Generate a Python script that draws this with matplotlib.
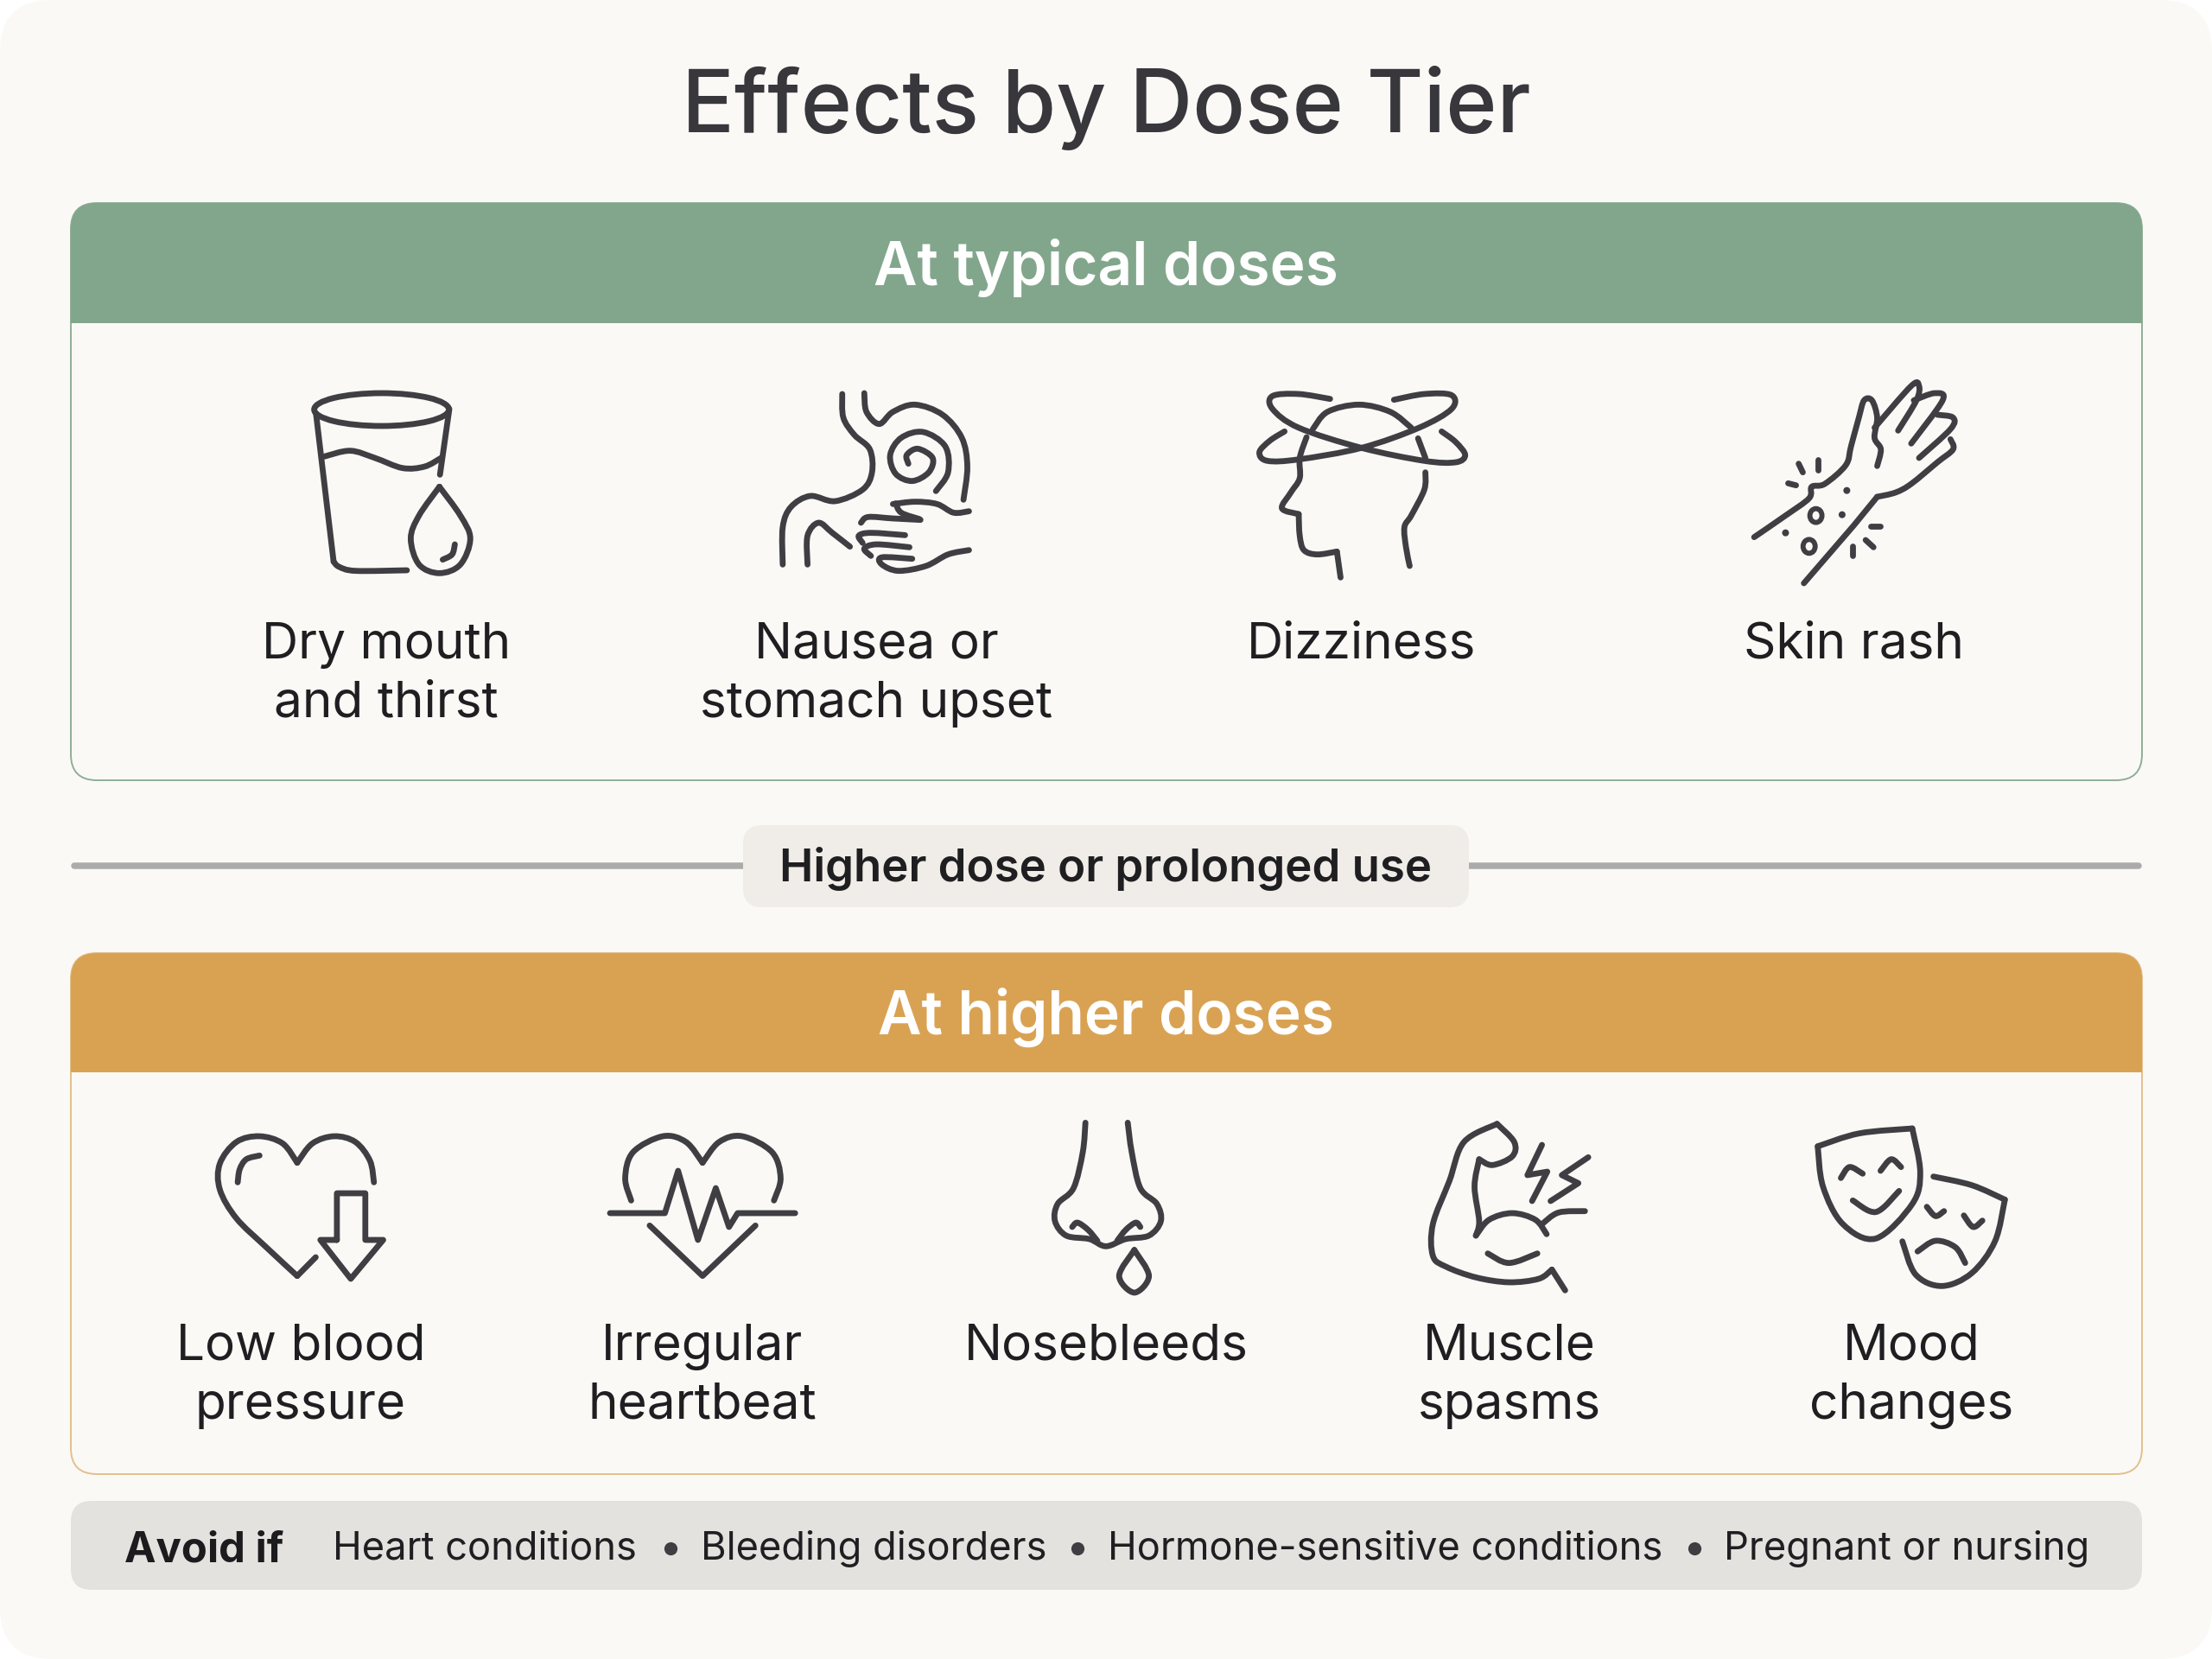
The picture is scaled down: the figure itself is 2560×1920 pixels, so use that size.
import matplotlib
matplotlib.use('Agg')
import matplotlib.pyplot as plt
from matplotlib.patches import FancyBboxPatch, PathPatch, Ellipse, Rectangle
from matplotlib.path import Path

plt.rcParams['font.family'] = ['Inter', 'DejaVu Sans']

# The text of the chart
title = 'Effects by Dose Tier'
tier_names = ['At typical doses', 'At higher doses']
typical_effects = ['Dry mouth\nand thirst', 'Nausea or\nstomach upset', 'Dizziness', 'Skin rash']
higher_effects = ['Low blood\npressure', 'Irregular\nheartbeat', 'Nosebleeds', 'Muscle\nspasms', 'Mood\nchanges']
divider_label = 'Higher dose or prolonged use'
avoid_label = 'Avoid if'
avoid_items = ['Heart conditions', 'Bleeding disorders', 'Hormone-sensitive conditions', 'Pregnant or nursing']

# Where the labels sit, in pixels
typical_x = [447, 1014, 1576, 2145]
higher_x = [348, 813, 1280, 1747, 2212]
avoid_x = [385, 811, 1282, 1995]
bullet_x = [776, 1247, 1961]

glass_curves = [
    [(135, 690), (145, 708), (175, 722), (268, 720)],
    [(118, 325), (165, 305), (210, 330), (260, 365), (300, 360), (330, 330)],
    [(327, 430), (290, 530), (275, 610), (290, 700), (327, 730), (365, 700), (383, 610), (365, 530), (327, 430)],
    [(355, 630), (350, 665), (333, 683)],
]
glass_lines = [[(103, 175), (135, 690)], [(345, 160), (328, 388)]]

stomach_curves = [
    [(1058, 108), (1060, 190), (1080, 250), (1108, 300), (1112, 380), (1095, 440), (1045, 480), (1000, 462), (965, 500), (950, 570), (950, 700)],
    [(1098, 105), (1102, 170), (1125, 212), (1150, 170), (1190, 145), (1240, 180), (1275, 260), (1285, 360), (1278, 475)],
    [(1228, 445), (1250, 380), (1245, 290), (1205, 240), (1165, 260), (1145, 320), (1155, 385), (1185, 410), (1215, 380), (1222, 330), (1195, 298), (1175, 320), (1178, 350)],
    [(995, 700), (995, 600), (1015, 555), (1040, 590), (1072, 638)],
    [(1150, 490), (1190, 482), (1230, 490), (1260, 520), (1288, 515)],
    [(1155, 488), (1165, 520), (1198, 542)],
    [(1200, 545), (1150, 540), (1105, 535), (1092, 555)],
    [(1172, 598), (1110, 590), (1088, 600), (1095, 625)],
    [(1180, 640), (1120, 630), (1098, 645), (1110, 670)],
    [(1185, 680), (1130, 675), (1130, 700), (1160, 722), (1210, 705), (1250, 665), (1288, 650)],
]

dizzy_curves = [
    [(230, 125), (170, 108), (120, 115), (120, 160), (170, 225), (290, 295), (410, 340), (470, 345), (488, 320), (470, 275), (443, 238)],
    [(352, 128), (410, 108), (462, 112), (462, 160), (400, 225), (290, 295), (170, 335), (110, 340), (95, 310), (115, 270), (143, 238)],
    [(197, 230), (225, 170), (285, 145), (345, 170), (385, 225)],
    [(185, 258), (172, 330), (172, 400), (155, 450), (138, 505), (170, 525)],
    [(170, 525), (172, 600), (180, 650), (205, 665), (243, 655)],
    [(412, 380), (410, 440), (385, 530), (372, 570), (375, 640), (382, 705)],
    [(398, 262), (412, 330)],
]
dizzy_lines = [[(243, 655), (250, 745)]]

rash_curves = [
    [(1040, 605), (1100, 530), (1145, 470), (1150, 430), (1175, 420), (1215, 355), (1225, 290), (1240, 190), (1250, 130), (1265, 130), (1275, 190), (1270, 260), (1282, 300), (1275, 358)],
    [(1270, 225), (1340, 80), (1355, 80), (1350, 130), (1315, 235)],
    [(1345, 130), (1385, 105), (1400, 130), (1340, 280)],
    [(1390, 180), (1420, 190), (1415, 230), (1355, 330)],
    [(1415, 265), (1420, 300), (1390, 345), (1340, 420), (1310, 450), (1275, 465)],
]
rash_lines = [
    [(1275, 465), (1230, 565), (1135, 765)],
    [(1133, 380), (1125, 350)], [(1162, 372), (1162, 335)], [(1120, 425), (1105, 418)],
    [(1280, 568), (1262, 568)], [(1268, 640), (1253, 615)], [(1228, 670), (1228, 635)],
]
rash_rings = [(1158, 530), (1145, 637)]
rash_dots = [(1217, 443), (1208, 527), (1100, 590)]

pressure_curves = [
    [(162, 197), (140, 130), (105, 105), (70, 125), (45, 200), (45, 290), (70, 390), (115, 490), (162, 590)],
    [(162, 197), (185, 130), (218, 105), (250, 125), (272, 190), (278, 265)],
    [(105, 172), (85, 185), (75, 220), (72, 265)],
]
pressure_lines = [
    [(162, 590), (190, 525)],
    [(222, 465), (222, 303), (265, 303), (265, 465), (292, 465), (243, 600), (197, 465), (222, 465)],
]

beat_curves = [
    [(667, 328), (658, 250), (670, 160), (715, 105), (750, 125), (775, 197)],
    [(775, 197), (800, 125), (835, 105), (880, 160), (893, 250), (883, 328)],
]
beat_lines = [
    [(635, 372), (718, 372), (738, 225), (768, 465), (795, 285), (815, 420), (828, 372), (915, 372)],
    [(695, 415), (775, 590), (855, 415)],
]

nose_curves = [
    [(1354, 58), (1350, 160), (1336, 285), (1312, 340), (1308, 400), (1325, 450), (1360, 462), (1385, 487), (1415, 462), (1450, 450), (1468, 400), (1462, 340), (1437, 285), (1424, 160), (1418, 58)],
    [(1334, 420), (1342, 405), (1358, 430), (1372, 468)],
    [(1437, 420), (1430, 405), (1415, 430), (1402, 468)],
    [(1428, 500), (1405, 590), (1428, 648), (1450, 590), (1428, 500)],
]

muscle_curves = [
    [(722, 62), (672, 125), (650, 260), (625, 410), (625, 520), (645, 558), (690, 595), (740, 612), (785, 600), (805, 568)],
    [(722, 62), (748, 125), (745, 175), (715, 205), (695, 185)],
    [(695, 185), (688, 280), (695, 400), (690, 450)],
    [(690, 450), (710, 395), (745, 372), (780, 395), (797, 445)],
    [(790, 410), (815, 370), (855, 365)],
    [(708, 512), (740, 545), (783, 512)],
]
muscle_lines = [
    [(805, 568), (825, 640)],
    [(790, 135), (768, 240), (798, 228), (775, 330)],
    [(860, 178), (820, 240), (845, 268), (803, 330)],
]

mask_curves = [
    [(1207, 140), (1270, 95), (1350, 78)],
    [(1350, 78), (1362, 230), (1350, 340), (1295, 460), (1245, 410), (1215, 280), (1207, 140)],
    [(1242, 250), (1255, 212), (1275, 235)],
    [(1302, 225), (1318, 185), (1333, 212)],
    [(1260, 328), (1295, 368), (1330, 295)],
    [(1382, 245), (1440, 275), (1490, 325)],
    [(1490, 325), (1475, 470), (1440, 580), (1395, 625), (1355, 585), (1335, 470)],
    [(1372, 350), (1385, 382), (1398, 365)],
    [(1428, 380), (1442, 420), (1456, 398)],
    [(1358, 505), (1385, 468), (1415, 490), (1430, 545)],
]

INK = '#3f3f43'
TEXT = '#1f1f22'
PAGE = '#fbf9f6'
ICON_LW = 2.45
LABEL_PX = 58.5


def px(size):
    # font size in points for a size in pixels
    return size * 72 / 200


def smooth_path(points):
    # Catmull-Rom stroke written as bezier segments
    verts = [points[0]]
    codes = [Path.MOVETO]
    for i in range(len(points) - 1):
        p0 = points[max(i - 1, 0)]
        p1 = points[i]
        p2 = points[i + 1]
        p3 = points[min(i + 2, len(points) - 1)]
        verts.append((p1[0] + (p2[0] - p0[0]) / 6, p1[1] + (p2[1] - p0[1]) / 6))
        verts.append((p2[0] - (p3[0] - p1[0]) / 6, p2[1] - (p3[1] - p1[1]) / 6))
        verts.append(p2)
        codes += [Path.CURVE4] * 3
    return Path(verts, codes)


def draw_icon(ax, origin, scale, curves=(), lines=()):
    place = lambda s: [(origin[0] + x / scale[0], origin[1] + y / scale[1]) for x, y in s]
    for stroke in curves:
        ax.add_patch(PathPatch(smooth_path(place(stroke)), fill=False, ec=INK, lw=ICON_LW,
                               capstyle='round', joinstyle='round'))
    for stroke in lines:
        ax.add_patch(PathPatch(Path(place(stroke)), fill=False, ec=INK, lw=ICON_LW,
                               capstyle='round', joinstyle='round'))


def panel(ax, top, bottom, head_bottom, color, edge, name):
    box = FancyBboxPatch((82, top), 2397, bottom - top, boxstyle='round,pad=0,rounding_size=30',
                         fc=PAGE, ec=edge, lw=0.7, zorder=1)
    ax.add_patch(box)
    head = Rectangle((82, top), 2397, head_bottom - top, fc=color, ec='none', zorder=2)
    ax.add_patch(head)
    head.set_clip_path(box)
    ax.text(1280, (top + head_bottom) / 2 - 2, name, ha='center', va='center_baseline', color='white',
            fontsize=px(69.5), fontweight='semibold', zorder=3)


fig = plt.figure(figsize=(12.8, 9.6), dpi=200, facecolor='white')
ax = fig.add_axes([0, 0, 1, 1])
ax.set_xlim(0, 2560)
ax.set_ylim(1920, 0)
ax.axis('off')

# Page
ax.add_patch(FancyBboxPatch((0, 0), 2560, 1920, boxstyle='round,pad=0,rounding_size=60',
                            fc=PAGE, ec='none', zorder=0))
ax.text(1280, 115, title, ha='center', va='center_baseline', color='#37373c',
        fontsize=px(101), fontweight='medium')

# Tier panels
panel(ax, 235, 903, 374, '#82a68c', '#8fae98', tier_names[0])
panel(ax, 1103, 1706, 1241, '#d9a253', '#e2c08c', tier_names[1])

for x, label in zip(typical_x, typical_effects):
    ax.text(x, 741, label.split('\n')[0], ha='center', va='center_baseline', color=TEXT, fontsize=px(LABEL_PX), zorder=4)
    if '\n' in label:
        ax.text(x, 809, label.split('\n')[1], ha='center', va='center_baseline', color=TEXT, fontsize=px(LABEL_PX), zorder=4)
for x, label in zip(higher_x, higher_effects):
    ax.text(x, 1553, label.split('\n')[0], ha='center', va='center_baseline', color=TEXT, fontsize=px(LABEL_PX), zorder=4)
    if '\n' in label:
        ax.text(x, 1621, label.split('\n')[1], ha='center', va='center_baseline', color=TEXT, fontsize=px(LABEL_PX), zorder=4)

# Divider
ax.plot([86, 2475], [1002, 1002], color='#ababab', lw=2.7, solid_capstyle='round', zorder=1)
ax.add_patch(FancyBboxPatch((860, 955), 840, 95, boxstyle='round,pad=0,rounding_size=22',
                            fc='#f0ece7', ec='none', zorder=2))
ax.text(1280, 1000, divider_label, ha='center', va='center_baseline', color=TEXT,
        fontsize=px(52.8), fontweight='semibold', zorder=3)

# Avoid bar
ax.add_patch(FancyBboxPatch((82, 1737), 2397, 103, boxstyle='round,pad=0,rounding_size=24',
                            fc='#e3e2df', ec='none', zorder=1))
ax.text(144, 1789, avoid_label, ha='left', va='center_baseline', color='#1c1c1e',
        fontsize=px(49), fontweight='bold', zorder=3)
for x, item in zip(avoid_x, avoid_items):
    ax.text(x, 1788, item, ha='left', va='center_baseline', color=TEXT, fontsize=px(45.3), zorder=3)
ax.scatter(bullet_x, [1792] * len(bullet_x), s=30, color=INK, linewidths=0, zorder=3)

# Icons, row one
crop_a = ((300, 420), (1.568, 3))
crop_b = ((1400, 420), (1.6505, 3))
crop_c = ((220, 1280), (1.3067, 3))
crop_d = ((1180, 1280), (1.3067, 3))

draw_icon(ax, *crop_a, curves=glass_curves, lines=glass_lines)
ax.add_patch(Ellipse((441.6, 474), 156, 38, fill=False, ec=INK, lw=ICON_LW))
draw_icon(ax, *crop_a, curves=stomach_curves)
draw_icon(ax, *crop_b, curves=dizzy_curves, lines=dizzy_lines)
draw_icon(ax, *crop_b, curves=rash_curves, lines=rash_lines)
for x, y in rash_rings:
    ax.add_patch(Ellipse((1400 + x / 1.6505, 420 + y / 3), 14, 16, fill=False, ec=INK, lw=2.1))
for x, y in rash_dots:
    ax.add_patch(Ellipse((1400 + x / 1.6505, 420 + y / 3), 8, 8, fc=INK, ec='none'))

# Icons, row two
draw_icon(ax, *crop_c, curves=pressure_curves, lines=pressure_lines)
draw_icon(ax, *crop_c, curves=beat_curves, lines=beat_lines)
draw_icon(ax, *crop_c, curves=nose_curves)
draw_icon(ax, *crop_d, curves=muscle_curves, lines=muscle_lines)
draw_icon(ax, *crop_d, curves=mask_curves)

fig.savefig('out.png', dpi=200, facecolor='white')
